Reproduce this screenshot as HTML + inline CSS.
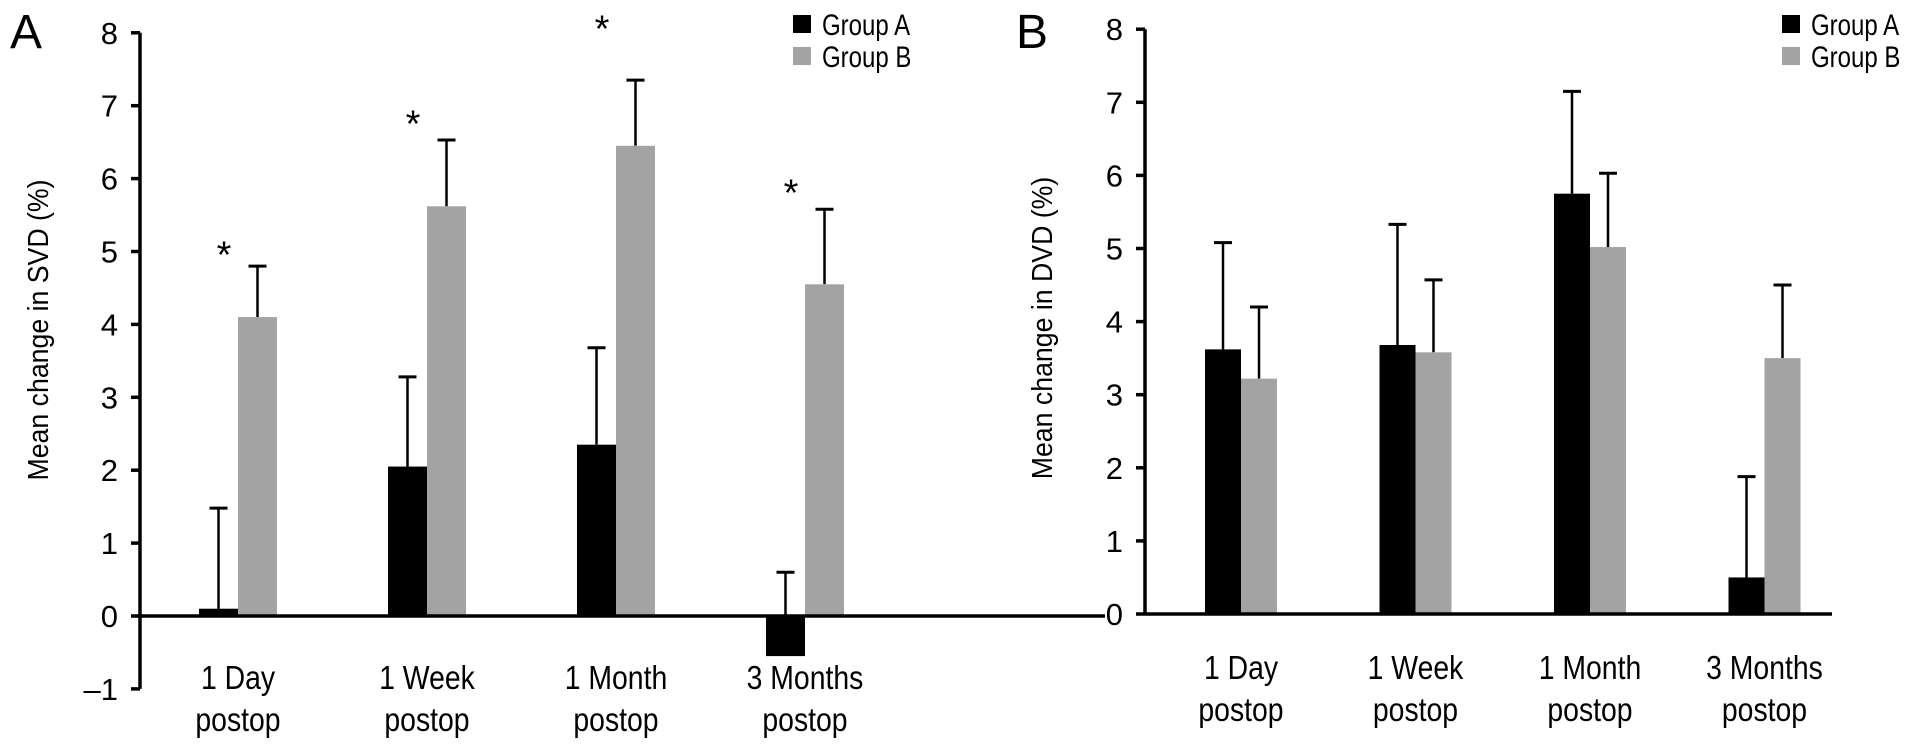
<!DOCTYPE html>
<html><head><meta charset="utf-8"><style>
html,body{margin:0;padding:0;background:#fff;}
svg{display:block;font-family:"Liberation Sans",Arial,sans-serif;}
</style></head><body>
<svg id="c" width="1913" height="747" viewBox="0 0 1913 747"></svg>
<script>
const categories = ["1 Day|postop","1 Week|postop","1 Month|postop","3 Months|postop"];
const svdA = [0.1, 2.05, 2.35, -0.55];
const svdAErr = [1.48, 3.28, 3.68, 0.6];
const svdB = [4.1, 5.62, 6.45, 4.55];
const svdBErr = [4.8, 6.53, 7.35, 5.58];
const svdStars = [5.0, 6.8, 8.1, 5.85];
const dvdA = [3.62, 3.68, 5.75, 0.5];
const dvdAErr = [5.08, 5.33, 7.15, 1.88];
const dvdB = [3.22, 3.58, 5.02, 3.5];
const dvdBErr = [4.2, 4.57, 6.03, 4.5];
const ticksA = [-1,0,1,2,3,4,5,6,7,8];
const ticksB = [0,1,2,3,4,5,6,7,8];

const svg = document.getElementById('c');
const NS = 'http://www.w3.org/2000/svg';
function el(tag, attrs, parent){const e=document.createElementNS(NS,tag);for(const k in attrs)e.setAttribute(k,attrs[k]);(parent||svg).appendChild(e);return e;}
function txt(s, attrs, parent){const e=el('text',attrs,parent);e.textContent=s;return e;}
function condense(e,f){const L=e.getComputedTextLength();if(L>0){e.setAttribute('textLength',(L*f).toFixed(1));e.setAttribute('lengthAdjust','spacingAndGlyphs');}}

function panel(cfg){
  const g = el('g',{});
  
  
  const y = v => cfg.zeroY - v*cfg.unit;
  const cx = i => cfg.firstCenter + i*cfg.step;
  const ax = el('line',{x1:cfg.axisX,y1:y(8),x2:cfg.axisX,y2:y(cfg.minV),stroke:'#000','stroke-width':3.5},g);
  
  
  cfg.ticks.forEach(t=>{
    const tk = el('line',{x1:cfg.axisX-9,y1:y(t),x2:cfg.axisX,y2:y(t),stroke:'#000','stroke-width':3.5},g);
    
    
    const lb = txt(t<0?'\u2013'+(-t):String(t),{x:cfg.axisX-22,y:y(t)+11,'text-anchor':'end','font-size':31},g);
    
    
  });
  const yt = txt(cfg.ytitle,{x:0,y:0,'text-anchor':'middle','font-size':29,transform:`translate(${cfg.titleX},${cfg.titleY}) rotate(-90)`},g);
  
  
  condense(yt,0.92);
  const pl = txt(cfg.letter,{x:cfg.letterX,y:48,'font-size':48},g);
  
  
  categories.forEach((c,i)=>{
    const c0 = cx(i), w = cfg.barW;
    [[cfg.a,cfg.aErr,'#000',c0-w],[cfg.b,cfg.bErr,'#a3a3a3',c0]].forEach(([vals,errs,col,x0],k)=>{
      const v = vals[i];
      const ex = x0 + w/2;
      const er = el('line',{x1:ex,y1:y(Math.max(v,0)),x2:ex,y2:y(errs[i]),stroke:'#000','stroke-width':2.5},g);
      
      
      const cap = el('line',{x1:ex-9,y1:y(errs[i]),x2:ex+9,y2:y(errs[i]),stroke:'#000','stroke-width':3},g);
      
      
      const r = el('rect',{x:x0,y:Math.min(y(v),y(0)),width:w,height:Math.abs(y(v)-y(0)),fill:col},g);
      
      
    });
    if(cfg.stars){
      const s = txt('*',{x:c0-14,y:y(cfg.stars[i])+16,'text-anchor':'middle','font-size':38},g);
      
      
    }
    const parts = c.split('|');
    parts.forEach((p,j)=>{
      const t = txt(p,{x:c0,y:cfg.labelY+j*42,'text-anchor':'middle','font-size':33},g);
      
      
      condense(t,0.86);
    });
  });
  const xa = el('line',{x1:cfg.axisX,y1:y(0),x2:cfg.xEnd,y2:y(0),stroke:'#000','stroke-width':3.5},g);
  
  
  [['Group A','#000'],['Group B','#a3a3a3']].forEach(([n,col],j)=>{
    const sq = el('rect',{x:cfg.legX,y:15+j*32,width:18,height:18,fill:col},g);
    
    
    const lt = txt(n,{x:cfg.legX+29,y:35+j*32,'font-size':30},g);
    
    
    condense(lt,0.8);
  });
}

panel({name:'panel-a-svd',axisX:140,zeroY:616,unit:72.9,minV:-1,ticks:ticksA,firstCenter:238,step:189,barW:39,
  a:svdA,aErr:svdAErr,b:svdB,bErr:svdBErr,stars:svdStars,xEnd:1105,labelY:689,
  ytitle:'Mean change in SVD (%)',titleX:48,titleY:330,letter:'A',letterX:10,legX:793});
panel({name:'panel-b-dvd',axisX:1145,zeroY:614,unit:73.1,minV:0,ticks:ticksB,firstCenter:1241,step:174.5,barW:36,
  a:dvdA,aErr:dvdAErr,b:dvdB,bErr:dvdBErr,stars:null,xEnd:1832,labelY:679,
  ytitle:'Mean change in DVD (%)',titleX:1052,titleY:328,letter:'B',letterX:1016,legX:1782});
</script>
</body></html>
